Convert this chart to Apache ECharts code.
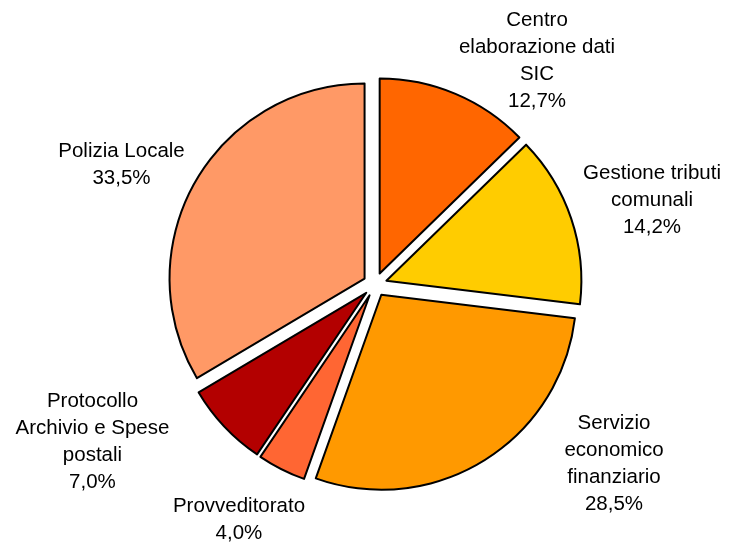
<!DOCTYPE html>
<html>
<head>
<meta charset="utf-8">
<script src="https://cdn.jsdelivr.net/npm/echarts@6/dist/echarts.min.js"></script>
<style>
html,body{margin:0;padding:0;background:#fff;}
#chart{width:731px;height:542px;}
</style>
</head>
<body>
<div id="chart"></div>
<script>
const categories = [
  'Centro\nelaborazione dati\nSIC',
  'Gestione tributi\ncomunali',
  'Servizio\neconomico\nfinanziario',
  'Provveditorato',
  'Protocollo\nArchivio e Spese\npostali',
  'Polizia Locale'
];
const values = [12.7, 14.2, 28.5, 4.0, 7.0, 33.5];
const colors = ['#FF6600', '#FFCC00', '#FF9900', '#FF6633', '#B30000', '#FF9966'];
// label placement (label line lengths, line hidden)
const labelLen = [35.6, 57.2, 4.0, 57.0, 22.5, 34.7];
const labelLen2 = [62.7, 21.7, 123.1, 11.8, 110.6, 38.4];

const chart = echarts.init(document.getElementById('chart'), null, {renderer: 'canvas'});
const data = categories.map((name, i) => ({
  name: name,
  value: values[i],
  selected: true,
  itemStyle: {color: colors[i]},
  labelLine: {show: false, length: labelLen[i], length2: labelLen2[i]}
}));

chart.setOption({
  animation: false,
  backgroundColor: '#ffffff',
  series: [{
    type: 'pie',
    center: ['51.3%', '52.5%'],
    radius: 195,
    startAngle: 90,
    clockwise: true,
    selectedMode: 'multiple',
    selectedOffset: 12,
    avoidLabelOverlap: false,
    itemStyle: {borderColor: '#000', borderWidth: 2},
    emphasis: {disabled: true},
    label: {
      show: true,
      position: 'outside',
      color: '#000',
      fontFamily: '"Liberation Sans", Arial, sans-serif',
      fontSize: 20.5,
      lineHeight: 27,
      distanceToLabelLine: 5,
      formatter: p => p.name + '\n' + p.value.toFixed(1).replace('.', ',') + '%'
    },
    labelLine: {show: false},
    labelLayout: function (params) {
      return {align: 'center', verticalAlign: 'middle'};
    },
    data: data
  }]
});
</script>
</body>
</html>
